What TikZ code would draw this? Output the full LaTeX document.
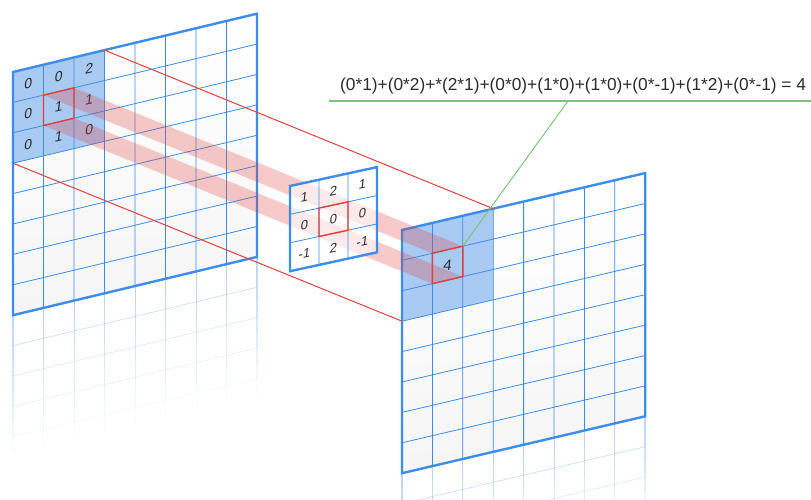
\documentclass[tikz,border=0pt]{standalone}
\usepackage{fontspec}
\setmainfont{Liberation Sans}
\usetikzlibrary{calc}
\definecolor{gridblue}{HTML}{3C8CEB}
\definecolor{cellblue}{HTML}{A9CBF3}
\definecolor{kred}{HTML}{E0413C}
\definecolor{lgreen}{HTML}{7CC47A}
\definecolor{digit}{HTML}{2B2B2B}
\tikzset{
  gridline/.style={gridblue, line width=0.8pt},
  gridframe/.style={gridblue, line width=2.4pt, line join=miter},
  focus/.style={draw=kred, line width=1.4pt},
  band/.style={fill=kred, fill opacity=0.28},
  digitnum/.style={digit, font=\fontsize{14}{14}\selectfont, transform shape, xslant=0.12, inner sep=0pt},
}

\begin{document}
\begin{tikzpicture}[x=1pt,y=-1pt]
  \useasboundingbox (0,0) rectangle (811,500);

  % input map, 8x8
  \begin{scope}[shift={(13,72)}, cm={1,0.239,0,1,(0,0)}, x=30.5pt, y=-30.4pt]
    \foreach \k in {0,...,8} {
      \pgfmathsetmacro\o{0.35*(1-\k/9)}
      \foreach \i in {1,...,7} \draw[gridline, opacity=\o] (\i,8+\k/2) -- (\i,8.5+\k/2);
      \draw[gridline, line width=1.6pt, opacity=\o] (0,8+\k/2) -- (0,8.5+\k/2) (8,8+\k/2) -- (8,8.5+\k/2);
    }
    \foreach \r/\o in {9/0.25,10/0.16,11/0.1,12/0.04} \draw[gridline, opacity=\o] (0,\r) -- (8,\r);
    \shade[top color=white, bottom color=black!4] (0,0) rectangle (8,8);
    \fill[cellblue] (0,0) rectangle (3,3);
    \foreach \i in {1,...,7} \draw[gridline] (\i,0) -- (\i,8) (0,\i) -- (8,\i);
    \draw[gridframe] (0,0) rectangle (8,8);
    \foreach \v [count=\n from 0] in {0,0,2,0,1,1,0,1,0} {
      \pgfmathtruncatemacro\c{mod(\n,3)}
      \pgfmathtruncatemacro\r{div(\n,3)}
      \node[digitnum] (in-\c-\r) at (\c+0.5,\r+0.5) {\v};
    }
    \coordinate (in-tr) at (3,0);
    \coordinate (in-bl) at (0,3);
    \coordinate (in-a) at (1,1);
    \coordinate (in-b) at (2,1);
    \coordinate (in-c) at (1,2);
    \coordinate (in-d) at (2,2);
  \end{scope}

  % output map, 8x8
  \begin{scope}[shift={(402,230)}, cm={1,0.234,0,1,(0,0)}, x=30.4pt, y=-30.4pt]
    \foreach \k in {0,...,6} {
      \pgfmathsetmacro\o{0.35*(1-\k/7)}
      \foreach \i in {1,...,7} \draw[gridline, opacity=\o] (\i,8+\k/2) -- (\i,8.5+\k/2);
      \draw[gridline, line width=1.6pt, opacity=\o] (0,8+\k/2) -- (0,8.5+\k/2) (8,8+\k/2) -- (8,8.5+\k/2);
    }
    \foreach \r/\o in {9/0.25,10/0.16,11/0.1} \draw[gridline, opacity=\o] (0,\r) -- (8,\r);
    \shade[top color=white, bottom color=black!4] (0,0) rectangle (8,8);
    \fill[cellblue] (0,0) rectangle (3,3);
    \foreach \i in {1,...,7} \draw[gridline] (\i,0) -- (\i,8) (0,\i) -- (8,\i);
    \draw[gridframe] (0,0) rectangle (8,8);
    \coordinate (out-tr) at (3,0);
    \coordinate (out-bl) at (0,3);
    \coordinate (out-a) at (1,1);
    \coordinate (out-b) at (2,1);
    \coordinate (out-c) at (1,2);
    \coordinate (out-d) at (2,2);
  \end{scope}

  % receptive field
  \draw[kred, line width=1pt] (in-tr) -- (out-tr) (in-bl) -- (out-bl);
  \fill[band] (in-a) -- (in-b) -- (out-b) -- (out-a) -- cycle;
  \fill[band] (in-c) -- (in-d) -- (out-d) -- (out-c) -- cycle;
  \draw[focus] (in-a) -- (in-b) -- (in-d) -- (in-c) -- cycle;

  % kernel, 3x3
  \begin{scope}[shift={(290,186)}, cm={1,0.217,0,1,(0,0)}, x=29pt, y=-28.4pt]
    \fill[white, opacity=0.6] (0,0) rectangle (3,3);
    \foreach \i in {1,2} \draw[gridline] (\i,0) -- (\i,3) (0,\i) -- (3,\i);
    \draw[gridframe] (0,0) rectangle (3,3);
    \draw[focus] (1,1) rectangle (2,2);
    \foreach \v [count=\n from 0] in {1,2,1,0,0,0,-1,2,-1} {
      \pgfmathtruncatemacro\c{mod(\n,3)}
      \pgfmathtruncatemacro\r{div(\n,3)}
      \node[digitnum, font=\fontsize{13}{13}\selectfont] (k-\c-\r) at (\c+0.5,\r+0.5) {\v};
    }
  \end{scope}

  % output value
  \draw[focus] (out-a) -- (out-b) -- (out-d) -- (out-c) -- cycle;
  \node[digitnum, font=\fontsize{15}{15}\selectfont] (out-val) at ($(out-a)!0.5!(out-d)$) {4};

  % formula
  \coordinate (rule-l) at (329,101);
  \coordinate (rule-m) at (568,101);
  \coordinate (rule-r) at (811,101);
  \draw[lgreen, line width=1.2pt] (rule-l) -- (rule-r);
  \draw[lgreen, line width=1pt] (out-b) -- (rule-m);
  \node[digit, anchor=base west, inner sep=0pt, font=\fontsize{17.3}{17.3}\selectfont] (sum) at (340,91)
    {(0*1)+(0*2)+*(2*1)+(0*0)+(1*0)+(1*0)+(0*-1)+(1*2)+(0*-1) = 4};
\end{tikzpicture}
\end{document}
